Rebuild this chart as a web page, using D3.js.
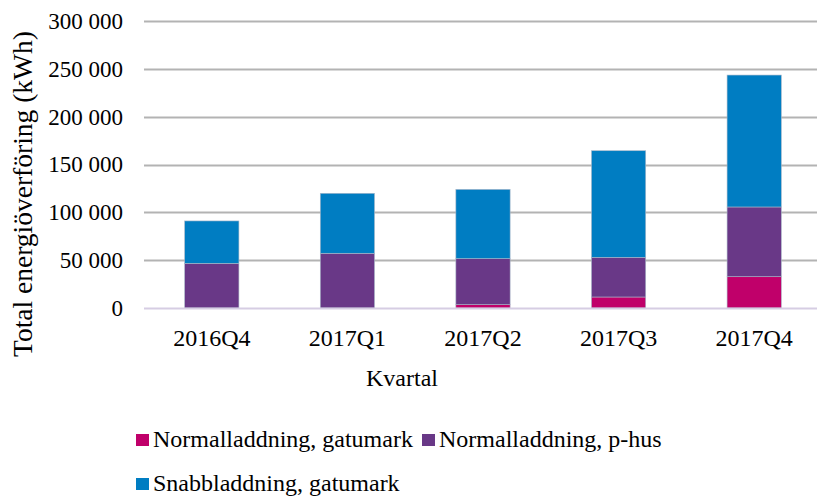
<!DOCTYPE html>
<html>
<head>
<meta charset="utf-8">
<script src="https://cdn.jsdelivr.net/npm/d3@7"></script>
<style>
  body { margin: 0; background: #fff; }
  svg { display: block; font-family: "Liberation Serif", "Times New Roman", serif; }
</style>
</head>
<body>
<div id="chart"></div>
<script>
// Données (kWh par trimestre)
const quarters = ["2016Q4", "2017Q1", "2017Q2", "2017Q3", "2017Q4"];
const keys = ["Normalladdning, gatumark", "Normalladdning, p-hus", "Snabbladdning, gatumark"];
const normalGatumark = [0, 0, 3500, 11500, 32700];
const normalPhus = [46700, 57200, 48100, 41500, 72900];
const snabbGatumark = [44300, 62700, 72400, 111400, 137900];
const yTicks = [0, 50000, 100000, 150000, 200000, 250000, 300000];
const colors = ["#c0006a", "#693887", "#007dc2"];

const W = 817, H = 497,
    plot = {left: 144, right: 822, top: 21, bottom: 308};

const data = quarters.map((q, i) => ({
    quarter: q,
    [keys[0]]: normalGatumark[i],
    [keys[1]]: normalPhus[i],
    [keys[2]]: snabbGatumark[i]
}));

const series = d3.stack().keys(keys)(data);

const svg = d3.select("#chart").append("svg")
    .attr("width", W)
    .attr("height", H);

const x = d3.scaleBand()
    .domain(quarters)
    .range([plot.left, plot.right])
    .paddingInner(0.6)
    .paddingOuter(0.3);

const y = d3.scaleLinear()
    .domain([0, 300000])
    .range([plot.bottom, plot.top]);

const fmt = v => d3.format(",")(v).replace(/,/g, " ");

// grille horizontale
svg.append("g")
    .selectAll("line")
    .data(yTicks.filter(d => d > 0))
    .enter().append("line")
    .attr("x1", plot.left)
    .attr("x2", W)
    .attr("y1", d => Math.round(y(d)) + 0.5)
    .attr("y2", d => Math.round(y(d)) + 0.5)
    .style("stroke", "#b3b3b3")
    .style("stroke-width", 2);

// étiquettes de l'axe Y
const yAxis = svg.append("g")
    .attr("transform", "translate(" + plot.left + ",0)")
    .call(d3.axisLeft(y).tickValues(yTicks).tickFormat(fmt).tickSize(0).tickPadding(21));
yAxis.select(".domain").remove();
yAxis.selectAll("text")
    .style("font-family", "Liberation Serif, serif")
    .style("font-size", "23px")
    .style("fill", "#000");

// barres empilées
svg.append("g")
    .selectAll("g")
    .data(series)
    .enter().append("g")
    .style("fill", (d, i) => colors[i])
    .selectAll("rect")
    .data(d => d)
    .enter().append("rect")
    .attr("x", d => x(d.data.quarter))
    .attr("width", x.bandwidth())
    .attr("y", d => y(d[1]))
    .attr("height", d => y(d[0]) - y(d[1]))
    .style("stroke", d => d[1] > d[0] ? "#a9b7c9" : "none")
    .style("stroke-width", 0.6);

// ligne de base
svg.append("line")
    .attr("x1", plot.left)
    .attr("x2", W)
    .attr("y1", plot.bottom + 0.5)
    .attr("y2", plot.bottom + 0.5)
    .style("stroke", "#d6cde3")
    .style("stroke-width", 2);

// axe X
const xAxis = svg.append("g")
    .attr("transform", "translate(0," + plot.bottom + ")")
    .call(d3.axisBottom(x).tickSize(0).tickPadding(21));
xAxis.select(".domain").remove();
xAxis.selectAll("text")
    .style("font-family", "Liberation Serif, serif")
    .style("font-size", "24px")
    .style("fill", "#000");

svg.append("text")
    .attr("x", 402)
    .attr("y", 386)
    .attr("text-anchor", "middle")
    .style("font-size", "24px")
    .text("Kvartal");

svg.append("text")
    .attr("transform", "translate(32,194) rotate(-90)")
    .attr("text-anchor", "middle")
    .style("font-size", "27.5px")
    .text("Total energiöverföring (kWh)");

// légende
const legendPos = [{x: 136, y: 441}, {x: 422, y: 441}, {x: 136, y: 485}];
const legend = svg.append("g")
    .selectAll("g")
    .data(keys)
    .enter().append("g")
    .attr("transform", (d, i) => "translate(" + legendPos[i].x + "," + legendPos[i].y + ")");

legend.append("rect")
    .attr("x", 0)
    .attr("y", -7)
    .attr("width", 13)
    .attr("height", 12)
    .style("fill", (d, i) => colors[i]);

legend.append("text")
    .attr("x", 17)
    .attr("y", 6)
    .style("font-size", "24px")
    .text(d => d);
</script>
</body>
</html>
